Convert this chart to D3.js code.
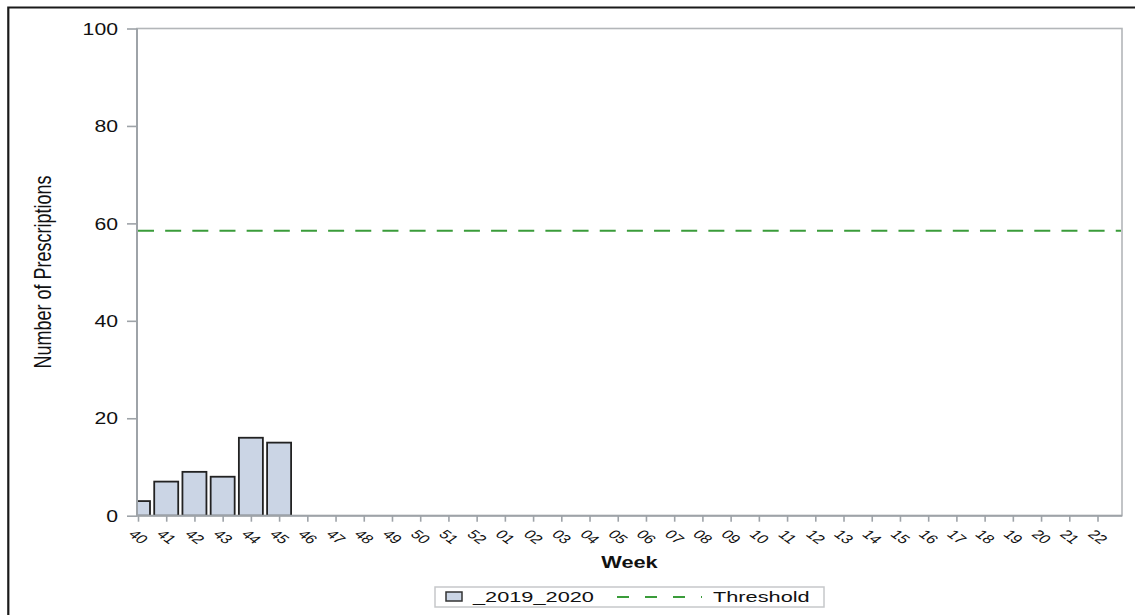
<!DOCTYPE html>
<html>
<head>
<meta charset="utf-8">
<script src="https://cdn.jsdelivr.net/npm/d3@7"></script>
<style>
  html, body { margin: 0; padding: 0; background: #fff; }
  svg { display: block; font-family: "Liberation Sans", Arial, sans-serif; }
</style>
</head>
<body>
<svg id="chart" width="1135" height="615"></svg>
<script>
// ---- data ----
const weeks = ["40","41","42","43","44","45","46","47","48","49","50","51","52",
  "01","02","03","04","05","06","07","08","09","10","11","12","13","14","15",
  "16","17","18","19","20","21","22"];
const season2019 = [3, 7, 9, 8, 16, 15, null, null, null, null, null, null, null,
  null, null, null, null, null, null, null, null, null, null, null, null, null,
  null, null, null, null, null, null, null, null, null];
const thresholdValue = 58.5;
const yTicks = [0, 20, 40, 60, 80, 100];
const seriesNames = ["_2019_2020", "Threshold"];
const yTitle = "Number of Prescriptions";
const xTitle = "Week";

// ---- layout ----
const plot = { left: 137, right: 1122, top: 28.5, bottom: 515.7 };
const SX = 1.36; // horizontal stretch seen in the reference text
const barColor = "#cbd5e5";
const greenColor = "#3a9c3a";
const axisColor = "#9ea3a8";

const svg = d3.select("#chart");

// outer border (top and left visible)
svg.append("path")
  .attr("d", `M8.3,615 L8.3,7.5 L1135,7.5`)
  .attr("fill", "none").attr("stroke", "#1a1a1a").attr("stroke-width", 2.2);

const x = d3.scalePoint().domain(weeks).range([138, 1097.5]);
const y = d3.scaleLinear().domain([0, 100]).range([plot.bottom, plot.top]);
const barW = 24;

// clip
svg.append("defs").append("clipPath").attr("id", "clip")
  .append("rect").attr("x", plot.left).attr("y", plot.top)
  .attr("width", plot.right - plot.left).attr("height", plot.bottom - plot.top);

// plot frame
svg.append("rect")
  .attr("x", plot.left).attr("y", plot.top)
  .attr("width", plot.right - plot.left).attr("height", plot.bottom - plot.top)
  .attr("fill", "none").attr("stroke", "#b3b6b9").attr("stroke-width", 1.6);

// bars
const barData = weeks.map((w, i) => ({ w, v: season2019[i] })).filter(d => d.v != null);
svg.append("g").attr("clip-path", "url(#clip)")
  .selectAll("rect").data(barData).enter().append("rect")
  .attr("x", d => x(d.w) - barW / 2)
  .attr("y", d => y(d.v))
  .attr("width", barW)
  .attr("height", d => y(0) - y(d.v))
  .attr("fill", barColor)
  .attr("stroke", "#222")
  .attr("stroke-width", 1.8);

// threshold line
svg.append("line")
  .attr("x1", plot.left + 1).attr("x2", plot.right - 1)
  .attr("y1", y(thresholdValue)).attr("y2", y(thresholdValue))
  .attr("stroke", greenColor).attr("stroke-width", 2)
  .attr("stroke-dasharray", "16,11.16");

// y axis
const yAxis = svg.append("g").attr("transform", `translate(${plot.left},0)`)
  .call(d3.axisLeft(y).tickValues(yTicks).tickSize(10).tickFormat(d3.format("d")));
yAxis.select(".domain").remove();
yAxis.selectAll(".tick line").attr("stroke", axisColor).attr("stroke-width", 1.6);
yAxis.selectAll(".tick text")
  .attr("x", null).attr("dy", "0.36em")
  .attr("transform", `translate(-19,0) scale(${SX},1)`)
  .attr("text-anchor", "end")
  .attr("font-size", 15.6).attr("fill", "#111")
  .attr("font-family", "'Liberation Sans', Arial, sans-serif");

// x axis
const xAxis = svg.append("g").attr("transform", `translate(0,${plot.bottom})`)
  .call(d3.axisBottom(x).tickSize(6));
xAxis.select(".domain").remove();
xAxis.selectAll(".tick line").attr("stroke", axisColor).attr("stroke-width", 1.6);
xAxis.selectAll(".tick text")
  .attr("y", 0).attr("dy", "0.35em")
  .attr("transform", `translate(0,21) scale(${SX},1) rotate(45)`)
  .attr("text-anchor", "middle")
  .attr("font-size", 12.5).attr("fill", "#111")
  .attr("font-family", "'Liberation Sans', Arial, sans-serif");

// axis lines (left & bottom)
svg.append("line").attr("x1", plot.left).attr("x2", plot.left)
  .attr("y1", plot.top).attr("y2", plot.bottom)
  .attr("stroke", axisColor).attr("stroke-width", 2);
svg.append("line").attr("x1", plot.left).attr("x2", plot.right)
  .attr("y1", plot.bottom).attr("y2", plot.bottom)
  .attr("stroke", axisColor).attr("stroke-width", 2);

// y title
svg.append("text")
  .attr("transform", `translate(43,272) scale(${SX},1) rotate(-90)`)
  .attr("text-anchor", "middle").attr("dominant-baseline", "central")
  .attr("font-size", 18).attr("fill", "#111")
  .text(yTitle);

// x title
svg.append("text")
  .attr("transform", `translate(629.5,568) scale(${SX},1)`)
  .attr("text-anchor", "middle")
  .attr("font-size", 16).attr("font-weight", "bold").attr("fill", "#111")
  .text(xTitle);

// legend
const lg = svg.append("g");
lg.append("rect").attr("x", 435).attr("y", 587).attr("width", 389).attr("height", 20)
  .attr("fill", "#fff").attr("stroke", "#c6c8ca").attr("stroke-width", 1.5);
lg.append("rect").attr("x", 446).attr("y", 592).attr("width", 16).attr("height", 9)
  .attr("fill", barColor).attr("stroke", "#333").attr("stroke-width", 1.5);
lg.append("text").attr("transform", `translate(473,602) scale(1.45,1)`)
  .attr("font-size", 15).attr("fill", "#111").text(seriesNames[0]);
lg.append("line").attr("x1", 617).attr("x2", 702).attr("y1", 597).attr("y2", 597)
  .attr("stroke", greenColor).attr("stroke-width", 2).attr("stroke-dasharray", "12,16");
lg.append("text").attr("transform", `translate(713,602) scale(1.45,1)`)
  .attr("font-size", 15).attr("fill", "#111").text(seriesNames[1]);
</script>
</body>
</html>
